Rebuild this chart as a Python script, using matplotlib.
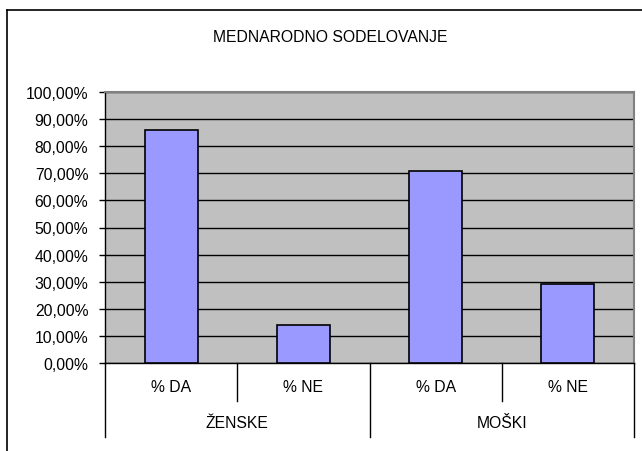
import matplotlib
matplotlib.use("Agg")
import matplotlib.pyplot as plt
from matplotlib.ticker import FuncFormatter, MultipleLocator
from matplotlib.lines import Line2D

plt.rcParams['font.family'] = ['Liberation Sans', 'DejaVu Sans']

title = "MEDNARODNO SODELOVANJE"
groups = ["ŽENSKE", "MOŠKI"]
answers = ["% DA", "% NE"]
values = [86.0, 14.0, 70.8, 29.2]  # ženske DA, NE, moški DA, NE

fs = 11.3
fig = plt.figure(figsize=(6.42, 4.52), dpi=100)
ax = fig.add_axes([105 / 642, 88 / 452, 529 / 642, 271 / 452])
ax.set_facecolor("#c0c0c0")

x = list(range(len(values)))
ax.bar(x, values, width=0.4, color="#9999ff", edgecolor="black", linewidth=1.2, zorder=3)

ax.set_xlim(-0.5, len(values) - 0.5)
ax.set_ylim(0, 100)
ax.yaxis.set_major_locator(MultipleLocator(10))
ax.yaxis.set_major_formatter(FuncFormatter(lambda v, p: f"{v:.2f}%".replace(".", ",")))
ax.tick_params(axis="y", labelsize=fs, length=4, width=1, direction="out", pad=8)
ax.grid(axis="y", color="black", linewidth=1, zorder=1)
ax.set_xticks([])

for s in ["left", "bottom"]:
    ax.spines[s].set_color("black")
    ax.spines[s].set_linewidth(1)
for s in ["top", "right"]:
    ax.spines[s].set_color("#808080")
    ax.spines[s].set_linewidth(1.5)

# multi-level category axis
tr = ax.get_xaxis_transform()
short, long_ = -0.140, -0.273
for i, v in enumerate(values):
    ax.text(i, -0.088, answers[i % 2], transform=tr, ha="center", va="center", fontsize=fs)
for b in [0.5, 2.5]:
    ax.add_line(Line2D([b, b], [0, short], transform=tr, color="black", lw=1, clip_on=False))
for b in [-0.5, 1.5, 3.5]:
    ax.add_line(Line2D([b, b], [0, long_], transform=tr, color="black", lw=1, clip_on=False))
for g, name in enumerate(groups):
    ax.text(2 * g + 0.5, -0.221, name, transform=tr, ha="center", va="center", fontsize=fs)

fig.text(330 / 642, 1 - 38 / 452, title, ha="center", va="center", fontsize=fs)

# chart frame (cut at right and bottom edges)
fx, fy = 7 / 642, 1 - 11 / 452
fig.add_artist(Line2D([fx, fx], [0, fy], color="black", lw=1.2))
fig.add_artist(Line2D([fx, 1], [fy, fy], color="black", lw=1.2))

fig.savefig("out.png", dpi=100)
